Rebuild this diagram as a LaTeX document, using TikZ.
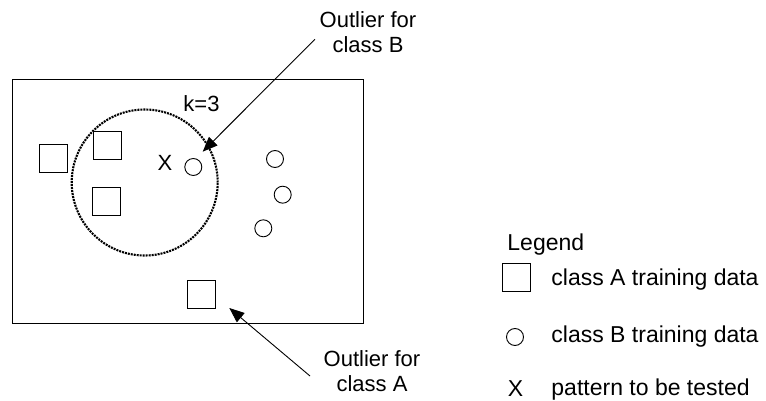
\documentclass[tikz,border=0pt]{standalone}
\usepackage{fontspec}
\setmainfont{Liberation Sans}
\usetikzlibrary{arrows.meta}

\begin{document}
\begin{tikzpicture}[x=1pt,y=-1pt,line width=.9pt,font=\fontsize{22}{25}\selectfont,
  sq/.style={draw,minimum size=28pt,inner sep=0pt},
  ring/.style={draw,circle,minimum size=17pt,inner sep=0pt},
  txt/.style={inner sep=0pt,align=center},
  legtxt/.style={inner sep=0pt,anchor=west,font=\fontsize{23}{26}\selectfont},
  >={Triangle[length=15pt,width=12pt]}]
\useasboundingbox (0,0) rectangle (766,401);
\node[draw,minimum width=351pt,minimum height=244pt,inner sep=0pt] (frame) at (187.5,201) {};
\node[draw,circle,minimum size=146pt,line width=2.1pt,dash pattern=on 2pt off 1pt] (knn) at (144.7,182.5) {};
\node[txt] (k) at (201.5,104) {k=3};
% class A
\node[sq] (a1) at (53,158.5) {};
\node[sq] (a2) at (107,145) {};
\node[sq] (a3) at (106.3,201.3) {};
\node[sq] (a4) at (201.7,294) {};
% class B
\node[ring] (b1) at (193.3,167) {};
\node[ring] (b2) at (275,159) {};
\node[ring] (b3) at (282.7,194.7) {};
\node[ring] (b4) at (263.3,228.3) {};
\node[txt] (x) at (165,162.5) {X};
% outliers
\node[txt] (outB) at (368,32) {Outlier for\\class B};
\node[txt] (outA) at (372,371) {Outlier for\\class A};
\coordinate (fromB) at (315,39.3);
\coordinate (tipB) at (202.7,151.7);
\coordinate (fromA) at (310,376);
\coordinate (tipA) at (229.3,308);
\draw[->] (fromB)--(tipB);
\draw[->] (fromA)--(tipA);
% legend
\node[legtxt] (leg) at (507,245) {Legend};
\node[sq] (lsq) at (516,277) {};
\node[ring] (lring) at (515,337) {};
\node[legtxt,anchor=center] (lx) at (515.5,389) {X};
\node[legtxt] (lsqt) at (551,280) {class A training data};
\node[legtxt] (lringt) at (551,337) {class B training data};
\node[legtxt] (lxt) at (551,390) {pattern to be tested};
\end{tikzpicture}
\end{document}
